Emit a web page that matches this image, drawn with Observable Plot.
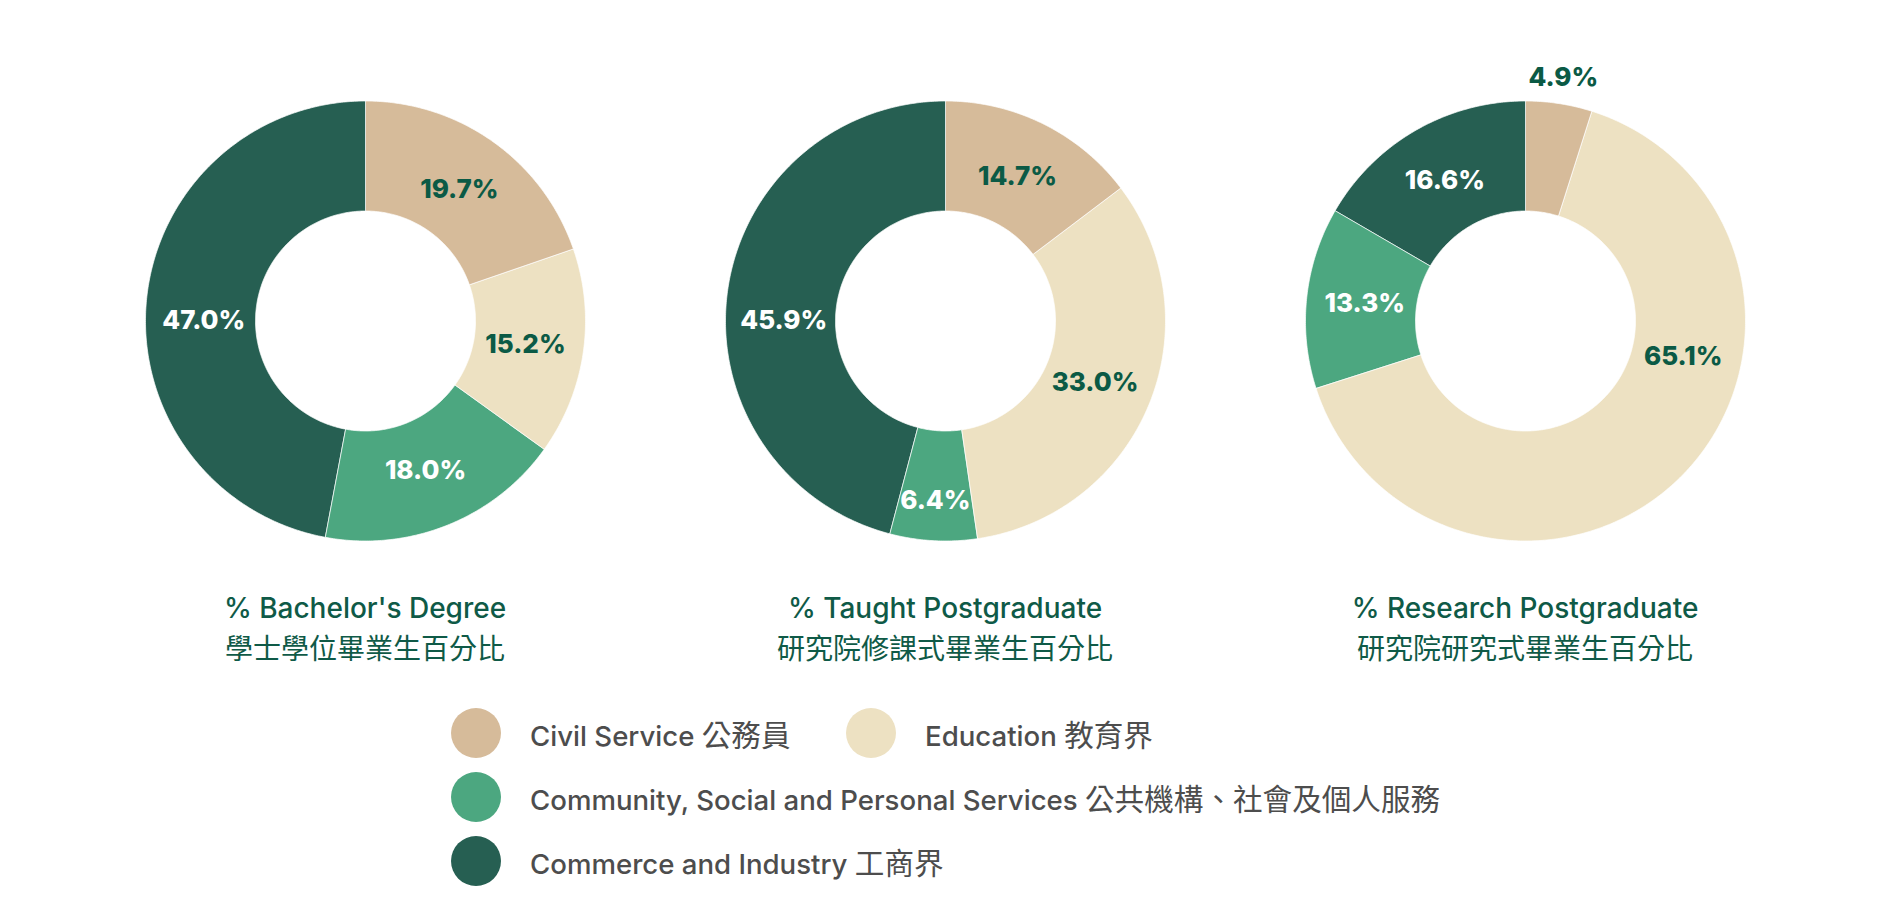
<!DOCTYPE html>
<html>
<head>
<meta charset="utf-8">
<script src="https://cdn.jsdelivr.net/npm/d3@7"></script>
<script src="https://cdn.jsdelivr.net/npm/@observablehq/plot@0.6"></script>
<style>
  body { margin: 0; background: #fff; font-family: Inter, "Noto Sans CJK TC", sans-serif; }
  #page { position: relative; width: 1890px; height: 918px; overflow: hidden; }
  #charts { position: absolute; left: 75px; top: 0; display: flex; }
  .panel { width: 580px; }
  .panel svg { display: block; }
  .t-en { font-size: 28px; font-weight: 500; color: #0f5a47; text-align: center; line-height: 30px; margin-top: 33px; }
  .t-zh { font-family: "Noto Sans CJK TC", sans-serif; font-size: 28px; color: #0f5a47; text-align: center; line-height: 36px; margin-top: 6px; }
  #legend { position: absolute; left: 451px; top: 708px; }
  .row { display: flex; align-items: center; height: 50px; margin-bottom: 14px; }
  .item { display: flex; align-items: center; }
  .dot { width: 50px; height: 50px; border-radius: 50%; margin-right: 29px; flex: none; }
  .lab { font-size: 27.6px; font-weight: 500; color: #4d4d4d; white-space: nowrap; }
  .lab .zh { font-family: "Noto Sans CJK TC", sans-serif; font-size: 29.6px; font-weight: 400; }
</style>
</head>
<body>
<div id="page">
  <div id="charts"></div>
  <div id="legend"></div>
</div>
<script>
// ---- data ----
const categoriesEn = ["Civil Service", "Education", "Community, Social and Personal Services", "Commerce and Industry"];
const categoriesZh = ["公務員", "教育界", "公共機構、社會及個人服務", "工商界"];
const colors = ["#d6bb9a", "#ede1c2", "#4ca780", "#265f52"];

const programmesEn = ["% Bachelor's Degree", "% Taught Postgraduate", "% Research Postgraduate"];
const programmesZh = ["學士學位畢業生百分比", "研究院修課式畢業生百分比", "研究院研究式畢業生百分比"];

const bachelor = [19.7, 15.2, 18.0, 47.0];
const taught = [14.7, 33.0, 6.4, 45.9];
const research = [4.9, 65.1, 13.3, 16.6];
const seriesValues = [bachelor, taught, research];

// ---- layout constants (pixels) ----
const W = 580, H = 560, R_PX = 220, CY_PX = 320.5;
const INNER = 0.5;           // inner radius, in units of the outer radius
const darkText = "#0b5a45";

const categories = categoriesEn.map((d, i) => d + " " + categoriesZh[i]);

function buildSlices(values) {
  const total = d3.sum(values);
  const polys = [], labels = [];
  let cum = 0;
  values.forEach((v, i) => {
    const a0 = cum / total * 2 * Math.PI;
    cum += v;
    const a1 = cum / total * 2 * Math.PI;
    const n = Math.max(8, Math.ceil((a1 - a0) / 0.01));
    const pts = [];
    for (let k = 0; k <= n; k++) {
      const a = a0 + (a1 - a0) * k / n;
      pts.push({x: Math.sin(a), y: Math.cos(a)});
    }
    for (let k = n; k >= 0; k--) {
      const a = a0 + (a1 - a0) * k / n;
      pts.push({x: INNER * Math.sin(a), y: INNER * Math.cos(a)});
    }
    pts.forEach(p => polys.push({...p, key: i, cat: categories[i]}));
    const span = a1 - a0;
    // large slices whose span crosses the 9 o'clock position keep their label level with the centre
    const west = 1.5 * Math.PI;
    let am = a0 + Math.min(span / 2, 85 * Math.PI / 180);
    if (span > Math.PI * 0.8 && a0 < west && a1 > west) am = west;
    const outside = v < 5;
    const r = outside ? 1.12 : v < 10 ? 0.818 : 0.735;
    labels.push({
      x: r * Math.sin(am), y: r * Math.cos(am),
      text: v.toFixed(1) + "%",
      dark: outside || i < 2
    });
  });
  return {polys, labels};
}

const charts = document.getElementById("charts");
seriesValues.forEach((vals, pi) => {
  const {polys, labels} = buildSlices(vals);
  const plot = Plot.plot({
    width: W, height: H, margin: 0,
    style: {fontFamily: "Inter, sans-serif", background: "transparent"},
    x: {domain: [-(W / 2) / R_PX, (W / 2) / R_PX], axis: null},
    y: {domain: [-(H - CY_PX) / R_PX, CY_PX / R_PX], axis: null},
    color: {domain: categories, range: colors},
    marks: [
      Plot.line(polys, {x: "x", y: "y", z: "key", fill: "cat", stroke: "white", strokeWidth: 0.7, curve: "linear-closed"}),
      Plot.text(labels.filter(d => d.dark), {x: "x", y: "y", text: "text", fill: darkText, fontSize: 26, fontWeight: 800}),
      Plot.text(labels.filter(d => !d.dark), {x: "x", y: "y", text: "text", fill: "white", fontSize: 26, fontWeight: 800})
    ]
  });
  const panel = document.createElement("div");
  panel.className = "panel";
  panel.appendChild(plot);
  const en = document.createElement("div");
  en.className = "t-en"; en.textContent = programmesEn[pi];
  const zh = document.createElement("div");
  zh.className = "t-zh"; zh.textContent = programmesZh[pi];
  panel.appendChild(en); panel.appendChild(zh);
  charts.appendChild(panel);
});

// ---- legend ----
const legend = document.getElementById("legend");
const rowsSpec = [[0, 1], [2], [3]];
rowsSpec.forEach(row => {
  const rowEl = document.createElement("div");
  rowEl.className = "row";
  row.forEach((ci, j) => {
    const item = document.createElement("div");
    item.className = "item";
    if (row.length > 1 && j === 0) item.style.width = "395px";
    const dot = document.createElement("div");
    dot.className = "dot"; dot.style.background = colors[ci];
    const lab = document.createElement("div");
    lab.className = "lab";
    lab.appendChild(document.createTextNode(categoriesEn[ci] + " "));
    const z = document.createElement("span");
    z.className = "zh"; z.textContent = categoriesZh[ci];
    lab.appendChild(z);
    item.appendChild(dot); item.appendChild(lab);
    rowEl.appendChild(item);
  });
  legend.appendChild(rowEl);
});
</script>
</body>
</html>
